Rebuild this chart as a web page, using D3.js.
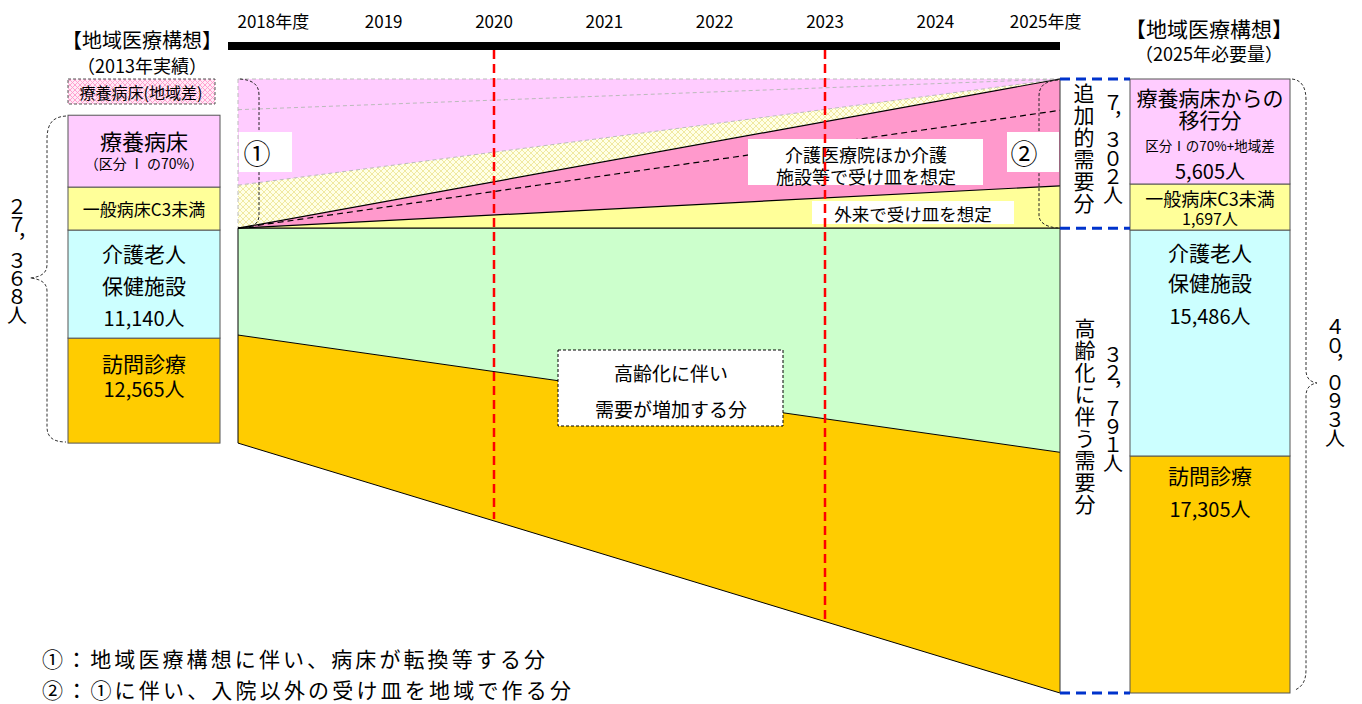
<!DOCTYPE html>
<html lang="ja">
<head>
<meta charset="utf-8">
<script src="https://cdn.jsdelivr.net/npm/d3@7"></script>
<style>
body { margin: 0; background: #fff; }
svg text { font-family: "Noto Sans CJK JP", "Noto Sans", sans-serif; fill: #000; }
</style>
</head>
<body>
<div id="chart"></div>
<script>
const width = 1362;
const height = 704;

// timeline
const years = [2018, 2019, 2020, 2021, 2022, 2023, 2024, 2025];
const yearLabels = ['2018年度', '2019', '2020', '2021', '2022', '2023', '2024', '2025年度'];
const markYears = [2020, 2023];

// 2013 column (schematic heights, % of the 2025 column), bottom to top
const leftNames = ['訪問診療', '介護老人保健施設', '一般病床C3未満', '療養病床'];
const leftPeople = [12565, 11140, null, null];
const leftShares = [17.1, 17.6, 7.0, 11.7];
const leftBase = 40.7;
const leftTotal = 27368;

// 2025 column, bottom to top
const rightNames = ['訪問診療', '介護老人保健施設', '一般病床C3未満', '療養病床からの移行分'];
const rightPeople = [17305, 15486, 1697, 5605];
const rightShares = [38.6, 36.8, 7.5, 17.1];

// flows between the columns: [bottom, top] at 2018 and at 2025
const flowNames = ['訪問診療', '介護老人保健施設', '外来', '介護医療院ほか', '一般病床C3未満', '療養病床'];
const flowLeft = [[40.7, 58.3], [58.3, 75.7], [75.7, 75.7], [75.7, 75.7], [75.7, 82.7], [82.7, 100]];
const flowRight = [[0, 39.2], [39.2, 75.7], [75.7, 82.6], [82.6, 100], [100, 100], [100, 100]];
const flowFill = ['#FFCC00', '#CCFFCC', '#FFFF99', '#FF99CC', 'url(#hatchY)', '#FFCCFF'];
const colFill = ['#FFCC00', '#CCFFFF', '#FFFF99', '#FFCCFF'];

const notes = ['①：地域医療構想に伴い、病床が転換等する分', '②：①に伴い、入院以外の受け皿を地域で作る分'];

const fmt = d3.format(',');
// full width digits for the vertical labels
const wide = s => s.replace(/[0-9,]/g, c => String.fromCharCode(c.charCodeAt(0) + 0xFEE0));

const svg = d3.select('#chart').append('svg')
  .attr('width', width)
  .attr('height', height);

const y = d3.scaleLinear([0, 100], [693, 79]);
const xFlow = d3.scaleLinear([0, 1], [238, 1060]);
const xYear = d3.scaleLinear([2020, 2023], [494, 825]);

// patterns
const defs = svg.append('defs');
function hatch(id, bg, fg, s) {
  const p = defs.append('pattern').attr('id', id)
    .attr('patternUnits', 'userSpaceOnUse')
    .attr('width', s).attr('height', s);
  p.append('rect').attr('width', s).attr('height', s).attr('fill', bg);
  p.append('path').attr('d', `M0,0L${s},${s}M${s},0L0,${s}`)
    .attr('stroke', fg).attr('stroke-width', 0.9);
}
hatch('hatchY', '#FFFFE6', '#EEE79A', 6);
hatch('hatchP', '#FFEAF6', '#FF99CC', 5);

function txt(x, yy, s, size, anchor) {
  return svg.append('text')
    .attr('x', x).attr('y', yy)
    .attr('text-anchor', anchor || 'middle')
    .attr('dominant-baseline', 'central')
    .style('font-size', size + 'px')
    .text(s);
}

// several lines in one text element: rows = [[dy, string, size], ...]
function block(x, y0, rows) {
  const t = svg.append('text')
    .attr('text-anchor', 'middle')
    .attr('dominant-baseline', 'central');
  rows.forEach(r => {
    t.append('tspan')
      .attr('x', x).attr('y', y0 + r[0])
      .attr('dominant-baseline', 'central')
      .style('font-size', r[2] + 'px')
      .text(r[1]);
  });
  return t;
}

// vertical text (first glyph centred on y0)
function vtext(x, y0, s, step, size) {
  return svg.append('text')
    .attr('x', x).attr('y', y0 - size / 2)
    .style('writing-mode', 'vertical-rl')
    .style('text-orientation', 'upright')
    .style('letter-spacing', (step - size) + 'px')
    .style('font-size', size + 'px')
    .text(wide(s));
}

function line(x1, y1, x2, y2, color, w, dash) {
  return svg.append('line')
    .attr('x1', x1).attr('y1', y1).attr('x2', x2).attr('y2', y2)
    .attr('stroke', color).attr('stroke-width', w)
    .attr('stroke-dasharray', dash || null);
}

//timeline
years.forEach((yr, i) => {
  txt(xYear(yr), 20, yearLabels[i], 17);
});
svg.append('rect')
  .attr('x', xFlow(0) - 10).attr('y', 42)
  .attr('width', xFlow(1) - xFlow(0) + 10).attr('height', 8)
  .attr('fill', '#000');

// headers
block(142, 39, [[0, '【地域医療構想】', 20], [26, '（2013年実績）', 18]]);
block(1209, 28, [[0, '【地域医療構想】', 21], [25, '（2025年必要量）', 18]]);

// flows
flowNames.forEach((n, i) => {
  const pts = [
    [xFlow(0), y(flowLeft[i][0])], [xFlow(1), y(flowRight[i][0])],
    [xFlow(1), y(flowRight[i][1])], [xFlow(0), y(flowLeft[i][1])]
  ];
  svg.append('path').attr('d', d3.line()(pts) + 'Z').attr('fill', flowFill[i]);
});

function edge(l, r, color, w, dash) {
  return line(xFlow(0), y(l), xFlow(1), y(r), color, w, dash);
}
// grey outline of the beds that are converted
edge(100, 100, '#bbb', 1, '4,3');
edge(flowLeft[5][0], flowRight[5][0], '#bbb', 1, '4,3');
edge(95.0, 100, '#bbb', 1, '4,3');
line(xFlow(0), y(100), xFlow(0), y(75.7), '#bbb', 1, '4,3');
// black edges
edge(flowLeft[3][0], flowRight[3][1], '#000', 1.2);
edge(75.7, 94.9, '#000', 1.2, '6,4');
edge(flowLeft[2][0], flowRight[2][1], '#000', 1.2);
edge(flowLeft[1][1], flowRight[1][1], '#000', 1.2);
edge(flowLeft[0][1], flowRight[0][1], '#000', 1);
edge(flowLeft[0][0], flowRight[0][0], '#000', 1);
line(xFlow(0), y(flowLeft[1][1]), xFlow(0), y(flowLeft[0][0]), '#000', 1);
line(xFlow(1), y(100), xFlow(1), y(0), '#333', 1);

// left column
const lx0 = 68, lx1 = 220;
let acc = leftBase;
leftNames.forEach((n, i) => {
  const b = acc, t = acc + leftShares[i];
  acc = t;
  svg.append('rect')
    .attr('x', lx0).attr('y', y(t))
    .attr('width', lx1 - lx0).attr('height', y(b) - y(t))
    .attr('fill', colFill[i])
    .attr('stroke', '#555').attr('stroke-width', 1);
});
const lc = (lx0 + lx1) / 2;
let segTop = y(leftBase + leftShares[0]);
block(lc, segTop, [[25, leftNames[0], 21], [50, fmt(leftPeople[0]) + '人', 20]]);
segTop = y(leftBase + d3.sum(leftShares.slice(0, 2)));
block(lc, segTop, [[23, leftNames[1].slice(0, 4), 21], [55, leftNames[1].slice(4), 21],
  [87, fmt(leftPeople[1]) + '人', 20]]);
segTop = y(leftBase + d3.sum(leftShares.slice(0, 3)));
txt(lc, segTop + 21, leftNames[2], 17);
segTop = y(leftBase + d3.sum(leftShares));
block(lc, segTop, [[25, leftNames[3], 22], [48, '（区分 Ⅰ の70%）', 14]]);

// regional difference label
svg.append('rect')
  .attr('x', lx0).attr('y', y(100))
  .attr('width', 147).attr('height', 25)
  .attr('fill', 'url(#hatchP)')
  .attr('stroke', '#555').attr('stroke-dasharray', '3,2');
txt(lx0 + 73, y(100) + 13, '療養病床(地域差)', 16);

// left brace
svg.append('path')
  .attr('d', 'M66,116 C52,117 47,124 47,140 L47,265 C47,273 41,277 30,278 C41,279 47,283 47,291 L47,427 C47,437 53,442 66,442')
  .attr('fill', 'none').attr('stroke', '#333').attr('stroke-dasharray', '3,2');
vtext(17, 207, fmt(leftTotal) + '人', 18, 20);

// right column
const rx0 = 1130, rx1 = 1290;
acc = 0;
rightNames.forEach((n, i) => {
  const b = acc, t = acc + rightShares[i];
  acc = t;
  svg.append('rect')
    .attr('x', rx0).attr('y', y(t))
    .attr('width', rx1 - rx0).attr('height', y(b) - y(t))
    .attr('fill', colFill[i])
    .attr('stroke', '#555').attr('stroke-width', 1);
});
const rc = (rx0 + rx1) / 2;
segTop = y(rightShares[0]);
block(rc, segTop, [[19, rightNames[0], 21], [52, fmt(rightPeople[0]) + '人', 20]]);
segTop = y(d3.sum(rightShares.slice(0, 2)));
block(rc, segTop, [[22, rightNames[1].slice(0, 4), 21], [52, rightNames[1].slice(4), 21],
  [85, fmt(rightPeople[1]) + '人', 20]]);
segTop = y(d3.sum(rightShares.slice(0, 3)));
block(rc, segTop, [[14, rightNames[2], 18], [34, fmt(rightPeople[2]) + '人', 16]]);
segTop = y(100);
block(rc, segTop, [[18, rightNames[3].slice(0, 7), 21], [40, rightNames[3].slice(7), 21],
  [66, '区分Ⅰの70%+地域差', 13.5], [91, fmt(rightPeople[3]) + '人', 20]]);

// right brace
svg.append('path')
  .attr('d', 'M1292,79 C1302,80 1306,88 1306,100 L1306,370 C1306,378 1310,382 1317,383 C1310,384 1306,388 1306,396 L1306,670 C1306,681 1302,687 1295,690')
  .attr('fill', 'none').attr('stroke', '#333').attr('stroke-dasharray', '3,2');
vtext(1335, 327, fmt(d3.sum(rightPeople)) + '人', 18.5, 20);

// blue dashed box between flows and 2025 column
[100, 75.7, 0].forEach(v => {
  line(xFlow(1), y(v), rx0, y(v), '#0033CC', 3, '10,6');
});
vtext(1084, 93, '追加的需要分', 22, 21);
vtext(1113, 103, fmt(rightPeople[2] + rightPeople[3]) + '人', 18.5, 20);
vtext(1085, 328, '高齢化に伴う需要分', 22, 21);
vtext(1113, 355, fmt(rightPeople[0] + rightPeople[1]) + '人', 18, 20);

// dashed brackets ① ②
svg.append('path')
  .attr('d', 'M240,79 C252,80 259,84 259,95 L259,215 C259,222 255,226 247,228')
  .attr('fill', 'none').attr('stroke', '#222').attr('stroke-dasharray', '3,2');
svg.append('path')
  .attr('d', 'M1058,80 C1045,81 1039,86 1039,96 L1039,215 C1039,222 1045,227 1058,228')
  .attr('fill', 'none').attr('stroke', '#222').attr('stroke-dasharray', '3,2');

// label boxes
function box(x, yy, w, h, dashed) {
  return svg.append('rect')
    .attr('x', x).attr('y', yy).attr('width', w).attr('height', h)
    .attr('fill', '#fff')
    .attr('stroke', dashed ? '#000' : 'none')
    .attr('stroke-dasharray', dashed ? '3,2' : null);
}
box(239, 132, 53, 40);
txt(257, 152, '①', 27);
box(1007, 132, 52, 40);
txt(1024, 152, '②', 27);
box(748, 139, 235, 46);
block(866, 154, [[0, '介護医療院ほか介護', 18], [22, '施設等で受け皿を想定', 18]]);
box(812, 201, 202, 23);
txt(913, 213, '外来で受け皿を想定', 17.5);
box(558, 350, 225, 76, true);
block(671, 372, [[0, '高齢化に伴い', 19], [36, '需要が増加する分', 19]]);

// red dashed year marks
markYears.forEach(yr => {
  const t = xFlow.invert(xYear(yr));
  const bottom = y(flowLeft[0][0] + (flowRight[0][0] - flowLeft[0][0]) * t);
  line(xYear(yr), 50, xYear(yr), bottom - 2, '#FF0000', 2.5, '9,5');
});

// notes
notes.forEach((s, i) => {
  svg.append('text')
    .attr('x', 42).attr('y', 667 + i * 31)
    .attr('textLength', i ? 529 : 503)
    .attr('lengthAdjust', 'spacing')
    .style('font-size', '21px')
    .text(s);
});
</script>
</body>
</html>
